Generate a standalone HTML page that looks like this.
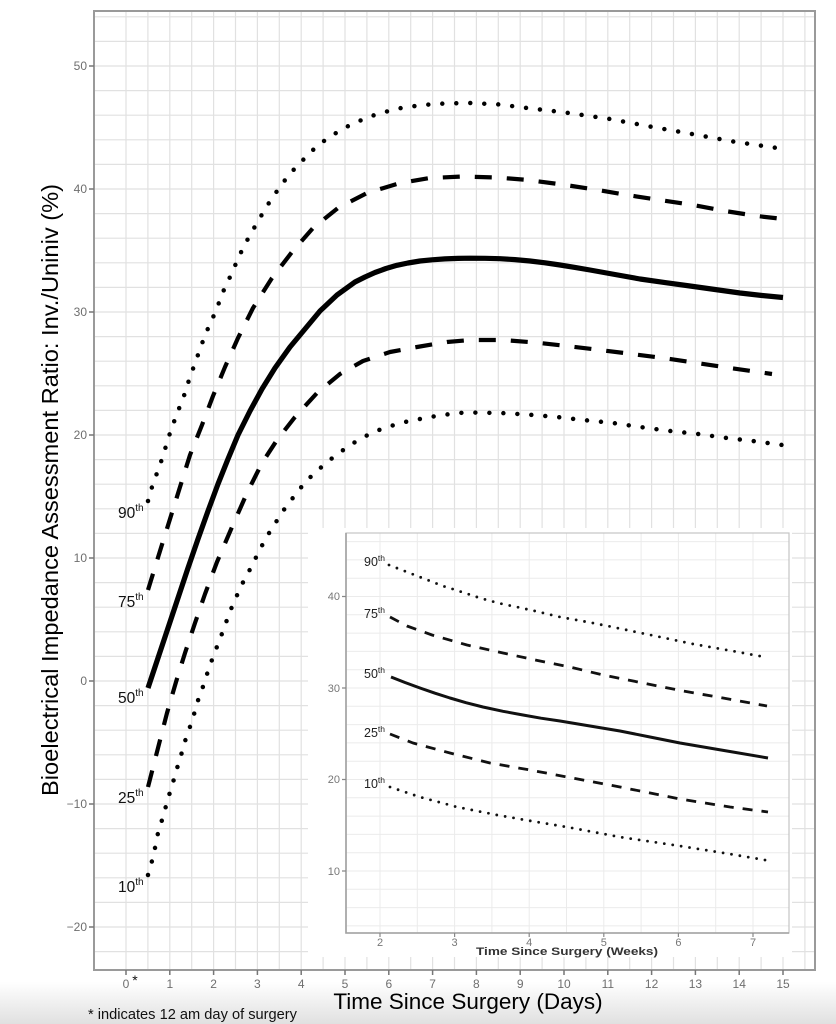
<!DOCTYPE html>
<html>
<head>
<meta charset="utf-8">
<style>
html,body{margin:0;padding:0;background:#fff;}
svg{display:block;}
text{font-family:"Liberation Sans",Arial,sans-serif;}
</style>
</head>
<body>
<svg width="836" height="1024" viewBox="0 0 836 1024" xmlns="http://www.w3.org/2000/svg">
<defs>
<linearGradient id="bg" x1="0" y1="0" x2="0" y2="1">
<stop offset="0" stop-color="#ffffff"/>
<stop offset="1" stop-color="#e0e0e0"/>
</linearGradient>
</defs>
<rect x="0" y="0" width="836" height="1024" fill="#fff"/>
<rect x="0" y="982" width="836" height="42" fill="url(#bg)"/>

<!-- main grid -->
<g stroke="#e1e1e1" stroke-width="1.2" fill="none">
<path d="M94 16.8H815M94 41.4H815M94 66H815M94 90.6H815M94 115.2H815M94 139.8H815M94 164.4H815M94 189H815M94 213.6H815M94 238.2H815M94 262.8H815M94 287.4H815M94 312H815M94 336.6H815M94 361.2H815M94 385.8H815M94 410.4H815M94 435H815M94 459.6H815M94 484.2H815M94 508.8H815M94 533.4H815M94 558H815M94 582.6H815M94 607.2H815M94 631.8H815M94 656.4H815M94 681H815M94 705.6H815M94 730.2H815M94 754.8H815M94 779.4H815M94 804H815M94 828.6H815M94 853.2H815M94 877.8H815M94 902.4H815M94 927H815M94 951.6H815"/>
<path d="M126 11V970M147.9 11V970M169.8 11V970M191.7 11V970M213.6 11V970M235.5 11V970M257.4 11V970M279.3 11V970M301.2 11V970M323.1 11V970M345 11V970M366.9 11V970M388.8 11V970M410.7 11V970M432.6 11V970M454.5 11V970M476.4 11V970M498.3 11V970M520.2 11V970M542.1 11V970M564 11V970M585.9 11V970M607.8 11V970M629.7 11V970M651.6 11V970M673.5 11V970M695.4 11V970M717.3 11V970M739.2 11V970M761.1 11V970M783 11V970M804.9 11V970"/>
</g>

<!-- main panel border -->
<rect x="94" y="11" width="721" height="959" fill="none" stroke="#9a9a9a" stroke-width="2"/>

<!-- ticks + labels -->
<g stroke="#777" stroke-width="1.5">
<path d="M89 66H94M89 189H94M89 312H94M89 435H94M89 558H94M89 681H94M89 804H94M89 927H94"/>
<path d="M126 970V975M169.8 970V975M213.6 970V975M257.4 970V975M301.2 970V975M345 970V975M388.8 970V975M432.6 970V975M476.4 970V975M520.2 970V975M564 970V975M607.8 970V975M651.6 970V975M695.4 970V975M739.2 970V975M783 970V975"/>
</g>
<g font-size="12" fill="#6e6e6e" text-anchor="end">
<text x="87" y="70">50</text>
<text x="87" y="193">40</text>
<text x="87" y="316">30</text>
<text x="87" y="439">20</text>
<text x="87" y="562">10</text>
<text x="87" y="685">0</text>
<text x="87" y="808">−10</text>
<text x="87" y="931">−20</text>
</g>
<g font-size="12" fill="#6e6e6e" text-anchor="middle">
<text x="126" y="988">0</text>
<text x="169.8" y="988">1</text>
<text x="213.6" y="988">2</text>
<text x="257.4" y="988">3</text>
<text x="301.2" y="988">4</text>
<text x="345" y="988">5</text>
<text x="388.8" y="988">6</text>
<text x="432.6" y="988">7</text>
<text x="476.4" y="988">8</text>
<text x="520.2" y="988">9</text>
<text x="564" y="988">10</text>
<text x="607.8" y="988">11</text>
<text x="651.6" y="988">12</text>
<text x="695.4" y="988">13</text>
<text x="739.2" y="988">14</text>
<text x="783" y="988">15</text>
</g>
<text x="135" y="985" font-size="14" fill="#111" text-anchor="middle">*</text>

<!-- main curves -->
<g fill="none" stroke="#000" stroke-linejoin="round">
<polyline stroke-width="4.5" stroke-linecap="round" stroke-dasharray="0 14"
points="148,501 152,487 157,473 162,459 166,446 170,433 175,419 180,406 185,393 189,380 194,366 199,352 204,338 209,326 215,313 220,300 225,287 232,273 237,261 243,248 250,235 257,223 264,211 272,198 280,187 288,176 298,165 308,155 318,145 330,137 342,129 355,123 368,117 382,113 395,109 422,105 445,103.5 470,103 500,104.5 523,107.5 565,112.5 607,118.5 650,126.5 692,134 733,141.5 777,148"/>
<polyline stroke-width="4.2" stroke-dasharray="17 15"
points="148,590 160,551 170,519 180,487 190,455 202,425 213,396 225,367 238,338 253,308 272,278 292,252 313,228 338,208 367,193 400,183 430,178 463,176.5 497,177.5 528,180 562,184.5 595,189.5 627,195 660,200 693,205 725,211 757,216 783,219"/>
<polyline stroke-width="5.2"
points="148,688 158,658 168,628 178,598 188,568 198,539 208,511 218,484 228,459 238,435 250,411 262,389 275,368 290,347 305,329 320,311 337,295 355,282 365,277 375,272.5 386,268.5 397,265.3 408,263 420,261 432,259.8 445,258.9 458,258.4 470,258.2 485,258.3 500,258.7 515,259.6 530,261 545,262.8 560,265 575,267.4 590,270 615,274.5 640,279 665,282.6 690,286 715,289.5 740,293 762,295.5 783,297.5"/>
<polyline stroke-width="4.2" stroke-dasharray="17 15"
points="148,787 158,748 167,713 176,682 185,653 195,623 205,594 217,562 232,527 247,493 262,463 277,440 295,417 317,393 340,374 363,361 390,352 417,347 447,342 470,340 503,340 535,342.5 567,346 600,350 632,354 663,358 697,363 730,368 772,374"/>
<polyline stroke-width="4.5" stroke-linecap="round" stroke-dasharray="0 14"
points="148,875 152,861 155,848 158,833 162,820 166,806 170,792 174,779 178,765 182,752 186,738 191,724 195,711 199,697 204,684 208,671 213,657 218,644 223,631 228,617 233,604 239,591 245,578 252,566 258,553 265,540 272,528 280,516 287,505 297,493 305,482 327,462 350,445 373,432 400,423 430,417 457,413 470,412.5 500,413 527,414.5 557,417 583,420 613,423 640,427 670,431 698,434 727,438 753,441 782,445"/>
</g>

<!-- main percentile labels -->
<g fill="#111" font-size="15.5">
<text x="118" y="518">90<tspan dy="-7" font-size="10">th</tspan></text>
<text x="118" y="607">75<tspan dy="-7" font-size="10">th</tspan></text>
<text x="118" y="703">50<tspan dy="-7" font-size="10">th</tspan></text>
<text x="118" y="803">25<tspan dy="-7" font-size="10">th</tspan></text>
<text x="118" y="892">10<tspan dy="-7" font-size="10">th</tspan></text>
</g>

<!-- INSET -->
<rect x="308" y="528" width="484" height="429" fill="#fff"/>
<g stroke="#ebebeb" stroke-width="1" fill="none">
<path d="M346 541.6H789M346 559.9H789M346 578.2H789M346 596.5H789M346 614.8H789M346 633.1H789M346 651.4H789M346 669.7H789M346 688H789M346 706.3H789M346 724.6H789M346 742.9H789M346 761.2H789M346 779.5H789M346 797.8H789M346 816.1H789M346 834.4H789M346 852.7H789M346 871H789M346 889.3H789M346 907.6H789M346 925.9H789"/>
<path d="M380 533V933M417.3 533V933M454.6 533V933M491.9 533V933M529.2 533V933M566.5 533V933M603.8 533V933M641.1 533V933M678.4 533V933M715.7 533V933M753 533V933"/>
</g>
<rect x="346" y="533" width="443" height="400" fill="none" stroke="#c4c4c4" stroke-width="1.2"/>
<path d="M346 533V933H789" fill="none" stroke="#a0a0a0" stroke-width="1.6"/>
<g stroke="#888" stroke-width="1.2">
<path d="M342 596.5H346M342 688H346M342 779.5H346M342 871H346"/>
<path d="M380 933V937M454.6 933V937M529.2 933V937M603.8 933V937M678.4 933V937M753 933V937"/>
</g>
<g font-size="11" fill="#777" text-anchor="end">
<text x="340" y="600">40</text>
<text x="340" y="692">30</text>
<text x="340" y="783">20</text>
<text x="340" y="875">10</text>
</g>
<g font-size="11" fill="#777" text-anchor="middle">
<text x="380" y="946">2</text>
<text x="454.6" y="946">3</text>
<text x="529.2" y="946">4</text>
<text x="603.8" y="946">5</text>
<text x="678.4" y="946">6</text>
<text x="753" y="946">7</text>
</g>
<text x="567" y="955" font-size="11" font-weight="bold" fill="#333" text-anchor="middle" textLength="182" lengthAdjust="spacingAndGlyphs">Time Since Surgery (Weeks)</text>

<g fill="none" stroke="#111" stroke-linejoin="round">
<polyline stroke-width="2.8" stroke-linecap="round" stroke-dasharray="0 8.5"
points="389,565 407,572 425,579 443,586 462,592 480,598 498,603 517,607 535,611 560,617 593,623 627,630 660,637 693,644 727,650 765,657"/>
<polyline stroke-width="2.8" stroke-dasharray="10 9"
points="390,617 407,626 432,635 467,645 503,653 540,661 570,667 603,675 643,683 683,691 723,698 767,706"/>
<polyline stroke-width="3"
points="391,677 405,682.5 420,688 435,693.2 450,698 466,702.7 483,707 503,711.3 523,715 541,718.2 560,721 590,726 620,731 650,737 680,743 724,750.5 768,758"/>
<polyline stroke-width="2.8" stroke-dasharray="10 9"
points="390,734 413,743 450,753 490,763 530,770 567,777 620,787 680,799 730,807 768,812"/>
<polyline stroke-width="2.8" stroke-linecap="round" stroke-dasharray="0 8.5"
points="390,787 420,797 457,807 497,815 537,822 567,827 620,837 680,846 730,854 765,860"/>
</g>
<g fill="#222" font-size="12.5">
<text x="364" y="566">90<tspan dy="-5" font-size="8.5">th</tspan></text>
<text x="364" y="618">75<tspan dy="-5" font-size="8.5">th</tspan></text>
<text x="364" y="678">50<tspan dy="-5" font-size="8.5">th</tspan></text>
<text x="364" y="737">25<tspan dy="-5" font-size="8.5">th</tspan></text>
<text x="364" y="788">10<tspan dy="-5" font-size="8.5">th</tspan></text>
</g>

<!-- axis titles -->
<text x="468" y="1009" font-size="22.5" fill="#000" text-anchor="middle">Time Since Surgery (Days)</text>
<text transform="translate(58,490) rotate(-90)" font-size="23" fill="#000" text-anchor="middle" textLength="612" lengthAdjust="spacingAndGlyphs">Bioelectrical Impedance Assessment Ratio: Inv./Uniniv (%)</text>

<!-- footnote -->
<text x="88" y="1019" font-size="14.5" fill="#111" textLength="209" lengthAdjust="spacingAndGlyphs">* indicates 12 am day of surgery</text>
</svg>
</body>
</html>
